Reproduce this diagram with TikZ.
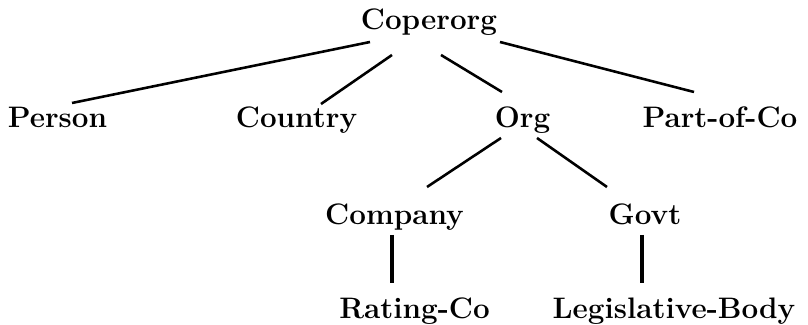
\documentclass[tikz,border=0pt]{standalone}
\usetikzlibrary{calc}
\tikzset{
	lbl/.style={font=\fontsize{15}{18}\selectfont\bfseries,inner sep=0pt,anchor=base},
	edge/.style={line width=1.3pt},
	stem/.style={line width=1.8pt}
}
\begin{document}
\begin{tikzpicture}[x=0.506pt,y=0.506pt]
	\useasboundingbox (0,0) rectangle (808,325);
	\node[lbl] (coperorg) at (429,295) {Coperorg};
	\node[lbl] (person) at (57.5,197) {Person};
	\node[lbl] (country) at (296.5,197) {Country};
	\node[lbl] (org) at (522.5,197) {Org};
	\node[lbl] (partofco) at (720,197) {Part-of-Co};
	\node[lbl] (company) at (394.5,100) {Company};
	\node[lbl] (govt) at (645,100) {Govt};
	\node[lbl] (ratingco) at (414.5,6) {Rating-Co};
	\node[lbl] (legbody) at (674,6) {Legislative-Body};
	\draw[edge] ($(coperorg.base)+(-59,-12)$) -- ($(person.base)+(14.5,25)$);
	\draw[edge] ($(coperorg.base)+(-37,-25)$) -- ($(country.base)+(24.5,24)$);
	\draw[edge] ($(coperorg.base)+(12,-25)$) -- ($(org.base)+(-20.5,36)$);
	\draw[edge] ($(coperorg.base)+(71,-12)$) -- ($(partofco.base)+(-26,36)$);
	\draw[edge] ($(org.base)+(-21.5,-10)$) -- ($(company.base)+(32.5,38)$);
	\draw[edge] ($(org.base)+(14.5,-10)$) -- ($(govt.base)+(-38,38)$);
	\draw[stem] ($(company.base)+(-2.5,-10)$) -- ($(ratingco.base)+(-22.5,36)$);
	\draw[stem] ($(govt.base)+(-3,-10)$) -- ($(legbody.base)+(-32,36)$);
\end{tikzpicture}
\end{document}
